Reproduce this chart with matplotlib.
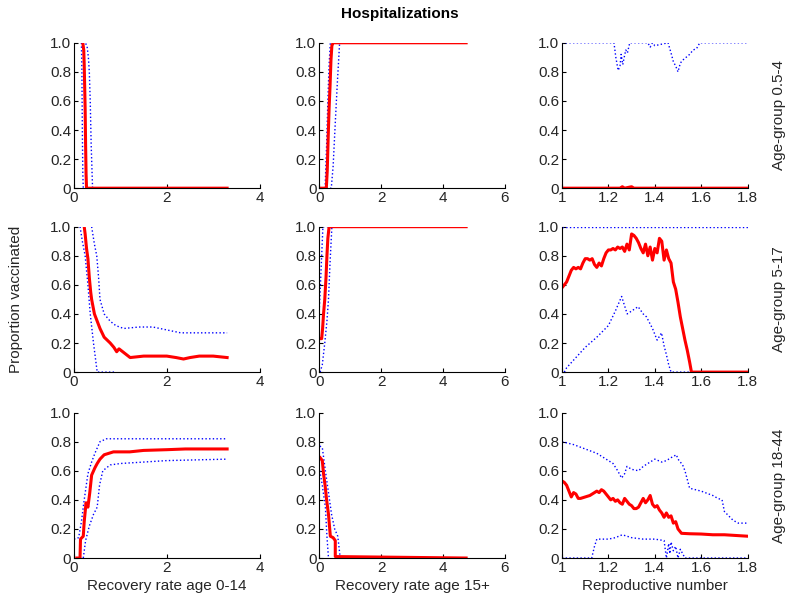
import matplotlib.pyplot as plt

plt.rcParams['font.family'] = ['Liberation Sans', 'DejaVu Sans']

# row 1 (age-group 0.5-4)
r1c1_x = [0.19, 0.21, 0.22, 0.23, 0.24, 0.25, 0.26, 0.27, 3.3]
r1c1_mid = [1.0, 0.95, 0.85, 0.7, 0.55, 0.3, 0.1, 0.0, 0.0]
r1c1_hi_x = [0.18, 0.24, 0.28, 0.31, 0.33, 0.35, 0.37, 0.40, 3.3]
r1c1_hi = [1.0, 1.0, 0.98, 0.9, 0.8, 0.6, 0.3, 0.0, 0.0]
r1c1_lo_x = [0.16, 0.17, 0.18, 0.19, 0.20, 3.3]
r1c1_lo = [1.0, 0.8, 0.4, 0.1, 0.0, 0.0]

r1c2_x = [0.0, 0.23, 0.26, 0.29, 0.32, 0.35, 0.38, 0.41, 0.45, 4.75]
r1c2_mid = [0.0, 0.0, 0.12, 0.35, 0.55, 0.7, 0.88, 0.98, 1.0, 1.0]
r1c2_hi_x = [0.19, 0.24, 0.28, 0.32, 0.36, 4.75]
r1c2_hi = [0.0, 0.3, 0.6, 0.85, 1.0, 1.0]
r1c2_lo_x = [0.0, 0.39, 0.45, 0.52, 0.58, 0.66, 4.75]
r1c2_lo = [0.0, 0.0, 0.15, 0.45, 0.7, 1.0, 1.0]

r1c3_x = [1.0, 1.25, 1.26, 1.27, 1.30, 1.31, 1.8]
r1c3_mid = [0.0, 0.0, 0.01, 0.0, 0.01, 0.0, 0.0]
r1c3_hi_x = [1.0, 1.224, 1.232, 1.242, 1.25, 1.255, 1.262, 1.268, 1.275, 1.282, 1.292,
             1.37, 1.38, 1.39, 1.40, 1.457, 1.47, 1.48, 1.49, 1.50, 1.51, 1.52,
             1.535, 1.55, 1.565, 1.58, 1.594, 1.8]
r1c3_hi = [1.0, 1.0, 0.9, 0.81, 0.84, 0.92, 0.85, 0.9, 0.95, 0.93, 1.0,
           1.0, 0.97, 1.0, 0.98, 1.0, 0.93, 0.87, 0.84, 0.8, 0.86, 0.88,
           0.9, 0.92, 0.95, 0.96, 1.0, 1.0]
r1c3_lo_x = [1.0, 1.8]
r1c3_lo = [0.0, 0.0]

# row 2 (age-group 5-17)
r2c1_x = [0.22, 0.24, 0.27, 0.3, 0.33, 0.36, 0.38, 0.41, 0.44, 0.5, 0.56, 0.65, 0.78,
          0.86, 0.92, 0.97, 1.05, 1.21, 1.5, 2.0, 2.2, 2.36, 2.5, 2.7, 3.0, 3.3]
r2c1_mid = [1.0, 0.95, 0.85, 0.78, 0.65, 0.55, 0.5, 0.45, 0.4, 0.35, 0.3, 0.24, 0.2,
            0.17, 0.14, 0.16, 0.14, 0.1, 0.11, 0.11, 0.1, 0.09, 0.1, 0.11, 0.11, 0.1]
r2c1_hi_x = [0.38, 0.44, 0.49, 0.53, 0.56, 0.65, 0.78, 0.9, 1.07, 1.4, 1.7, 2.0, 2.3, 3.3]
r2c1_hi = [1.0, 0.88, 0.8, 0.65, 0.5, 0.4, 0.35, 0.32, 0.3, 0.31, 0.31, 0.29, 0.27, 0.27]
r2c1_lo_x = [0.13, 0.18, 0.24, 0.3, 0.35, 0.42, 0.5, 0.9]
r2c1_lo = [1.0, 0.9, 0.8, 0.6, 0.4, 0.2, 0.0, 0.0]

r2c2_x = [0.01, 0.08, 0.11, 0.14, 0.18, 0.22, 0.25, 0.28, 0.32, 0.36, 4.75]
r2c2_mid = [0.23, 0.23, 0.3, 0.4, 0.5, 0.65, 0.8, 0.92, 1.0, 1.0, 1.0]
r2c2_hi_x = [0.0, 0.03, 0.06, 0.09, 0.12, 4.75]
r2c2_hi = [0.42, 0.55, 0.7, 0.85, 1.0, 1.0]
r2c2_lo_x = [0.03, 0.1, 0.18, 0.25, 0.30, 0.35, 0.41, 4.75]
r2c2_lo = [0.0, 0.05, 0.2, 0.35, 0.5, 0.75, 1.0, 1.0]

r2c3_x = [1.0, 1.01, 1.02, 1.03, 1.04, 1.05, 1.06, 1.07, 1.08, 1.09, 1.10, 1.11, 1.12,
          1.13, 1.14, 1.15, 1.16, 1.17, 1.18, 1.19, 1.20, 1.21, 1.22, 1.23, 1.24,
          1.25, 1.26, 1.27, 1.28, 1.29, 1.30, 1.31, 1.32, 1.33, 1.34, 1.35, 1.36,
          1.37, 1.38, 1.39, 1.40, 1.41, 1.42, 1.43, 1.44, 1.45, 1.46, 1.47, 1.48,
          1.49, 1.50, 1.51, 1.52, 1.53, 1.54, 1.55, 1.558, 1.6, 1.7, 1.8]
r2c3_mid = [0.58, 0.6, 0.62, 0.66, 0.7, 0.72, 0.71, 0.72, 0.71, 0.75, 0.78, 0.78, 0.77,
            0.78, 0.74, 0.72, 0.75, 0.73, 0.78, 0.82, 0.84, 0.84, 0.85, 0.84, 0.86,
            0.85, 0.86, 0.83, 0.88, 0.84, 0.95, 0.94, 0.92, 0.89, 0.85, 0.82, 0.88,
            0.8, 0.86, 0.77, 0.85, 0.82, 0.92, 0.9, 0.77, 0.84, 0.78, 0.75, 0.62,
            0.57, 0.48, 0.38, 0.3, 0.22, 0.15, 0.07, 0.0, 0.0, 0.0, 0.0]
r2c3_hi_x = [1.0, 1.8]
r2c3_hi = [1.0, 1.0]
r2c3_lo_x = [1.01, 1.02, 1.06, 1.1, 1.15, 1.2, 1.23, 1.257, 1.281, 1.3, 1.328, 1.35,
             1.364, 1.39, 1.41, 1.429, 1.44, 1.45, 1.46, 1.47, 1.8]
r2c3_lo = [0.0, 0.03, 0.1, 0.17, 0.24, 0.32, 0.42, 0.52, 0.4, 0.42, 0.45, 0.4,
           0.38, 0.3, 0.22, 0.27, 0.18, 0.12, 0.05, 0.0, 0.0]

# row 3 (age-group 18-44)
r3c1_x = [0.06, 0.13, 0.14, 0.2, 0.22, 0.26, 0.3, 0.34, 0.38, 0.45, 0.5, 0.56, 0.65,
          0.85, 1.2, 1.5, 2.0, 2.4, 3.3]
r3c1_mid = [0.0, 0.0, 0.13, 0.15, 0.25, 0.38, 0.35, 0.45, 0.57, 0.62, 0.65, 0.68, 0.71,
            0.73, 0.73, 0.74, 0.745, 0.75, 0.75]
r3c1_hi_x = [0.0, 0.1, 0.16, 0.22, 0.3, 0.38, 0.45, 0.56, 0.7, 0.85, 3.3]
r3c1_hi = [0.13, 0.14, 0.25, 0.4, 0.58, 0.66, 0.72, 0.8, 0.82, 0.82, 0.82]
r3c1_lo_x = [0.2, 0.25, 0.33, 0.42, 0.5, 0.55, 0.62, 0.78, 1.0, 2.0, 3.3]
r3c1_lo = [0.0, 0.12, 0.22, 0.3, 0.35, 0.5, 0.6, 0.64, 0.65, 0.67, 0.68]

r3c2_x = [0.03, 0.1, 0.14, 0.19, 0.24, 0.3, 0.36, 0.45, 0.52, 0.52, 4.75]
r3c2_mid = [0.69, 0.67, 0.58, 0.5, 0.4, 0.3, 0.15, 0.14, 0.12, 0.01, 0.0]
r3c2_hi_x = [0.02, 0.1, 0.2, 0.3, 0.4, 0.5, 0.6, 0.68, 4.75]
r3c2_hi = [0.77, 0.76, 0.6, 0.45, 0.3, 0.2, 0.15, 0.0, 0.0]
r3c2_lo_x = [0.02, 0.1, 0.2, 0.25, 0.3]
r3c2_lo = [0.6, 0.5, 0.35, 0.15, 0.0]

r3c3_x = [1.0, 1.01, 1.02, 1.03, 1.04, 1.05, 1.06, 1.07, 1.08, 1.10, 1.12, 1.14, 1.15,
          1.16, 1.17, 1.18, 1.19, 1.20, 1.21, 1.22, 1.23, 1.24, 1.25, 1.26, 1.27,
          1.28, 1.29, 1.30, 1.31, 1.32, 1.33, 1.34, 1.35, 1.36, 1.37, 1.38, 1.39,
          1.40, 1.41, 1.42, 1.43, 1.44, 1.45, 1.46, 1.47, 1.48, 1.49, 1.50, 1.51,
          1.515, 1.55, 1.6, 1.65, 1.7, 1.75, 1.8]
r3c3_mid = [0.53, 0.52, 0.5, 0.46, 0.42, 0.45, 0.44, 0.41, 0.41, 0.42, 0.43, 0.45, 0.46,
            0.45, 0.47, 0.46, 0.44, 0.42, 0.4, 0.41, 0.39, 0.4, 0.38, 0.37, 0.41,
            0.39, 0.37, 0.36, 0.34, 0.34, 0.35, 0.38, 0.41, 0.38, 0.4, 0.43, 0.37,
            0.35, 0.36, 0.33, 0.31, 0.28, 0.31, 0.28, 0.29, 0.24, 0.25, 0.2, 0.18,
            0.17, 0.167, 0.165, 0.16, 0.16, 0.155, 0.15]
r3c3_hi_x = [1.0, 1.05, 1.1, 1.15, 1.17, 1.2, 1.22, 1.24, 1.257, 1.27, 1.28, 1.3, 1.33,
             1.35, 1.4, 1.43, 1.45, 1.47, 1.493, 1.5, 1.52, 1.53, 1.55, 1.6, 1.65,
             1.672, 1.69, 1.7, 1.737, 1.76, 1.8]
r3c3_hi = [0.8, 0.78, 0.75, 0.72, 0.7, 0.67, 0.65, 0.6, 0.55, 0.58, 0.63, 0.61, 0.6,
           0.63, 0.68, 0.66, 0.67, 0.69, 0.71, 0.68, 0.64, 0.6, 0.48, 0.46, 0.43,
           0.41, 0.4, 0.32, 0.26, 0.24, 0.24]
r3c3_lo_x = [1.0, 1.128, 1.14, 1.15, 1.2, 1.23, 1.26, 1.28, 1.3, 1.35, 1.4, 1.44, 1.45,
             1.46, 1.465, 1.47, 1.48, 1.49, 1.5, 1.51, 1.52, 1.53, 1.8]
r3c3_lo = [0.0, 0.0, 0.08, 0.13, 0.13, 0.14, 0.16, 0.15, 0.14, 0.13, 0.13, 0.12, 0.0,
           0.1, 0.03, 0.11, 0.05, 0.08, 0.0, 0.06, 0.03, 0.0, 0.0]

panels = [
    [(r1c1_x, r1c1_mid, r1c1_hi_x, r1c1_hi, r1c1_lo_x, r1c1_lo),
     (r1c2_x, r1c2_mid, r1c2_hi_x, r1c2_hi, r1c2_lo_x, r1c2_lo),
     (r1c3_x, r1c3_mid, r1c3_hi_x, r1c3_hi, r1c3_lo_x, r1c3_lo)],
    [(r2c1_x, r2c1_mid, r2c1_hi_x, r2c1_hi, r2c1_lo_x, r2c1_lo),
     (r2c2_x, r2c2_mid, r2c2_hi_x, r2c2_hi, r2c2_lo_x, r2c2_lo),
     (r2c3_x, r2c3_mid, r2c3_hi_x, r2c3_hi, r2c3_lo_x, r2c3_lo)],
    [(r3c1_x, r3c1_mid, r3c1_hi_x, r3c1_hi, r3c1_lo_x, r3c1_lo),
     (r3c2_x, r3c2_mid, r3c2_hi_x, r3c2_hi, r3c2_lo_x, r3c2_lo),
     (r3c3_x, r3c3_mid, r3c3_hi_x, r3c3_hi, r3c3_lo_x, r3c3_lo)],
]

row_labels = ['Age-group 0.5-4', 'Age-group 5-17', 'Age-group 18-44']
col_xlabels = ['Recovery rate age 0-14', 'Recovery rate age 15+', 'Reproductive number']
col_xlim = [(0, 4), (0, 6), (1, 1.8)]
col_xticks = [[0, 2, 4], [0, 2, 4, 6], [1, 1.2, 1.4, 1.6, 1.8]]
col_xticklabels = [['0', '2', '4'], ['0', '2', '4', '6'], ['1', '1.2', '1.4', '1.6', '1.8']]
yticks = [0, 0.2, 0.4, 0.6, 0.8, 1.0]
yticklabels = ['0', '0.2', '0.4', '0.6', '0.8', '1.0']

fig = plt.figure(figsize=(8, 6.11), dpi=100)
lefts = [0.0925, 0.399, 0.7025]
bottoms = [0.692, 0.391, 0.0867]
w = 0.232
h = 0.238
tcol = '#262626'

for i in range(3):
    for j in range(3):
        ax = fig.add_axes([lefts[j], bottoms[i], w, h])
        x, m, hx, hy, lx, ly = panels[i][j]
        ax.plot(hx, hy, ':', color='b', lw=1)
        ax.plot(lx, ly, ':', color='b', lw=1)
        ax.plot(x, m, '-', color='r', lw=2.2)
        ax.set_xlim(col_xlim[j])
        ax.set_ylim(0, 1)
        ax.set_xticks(col_xticks[j])
        ax.set_xticklabels(col_xticklabels[j])
        ax.set_yticks(yticks)
        ax.set_yticklabels(yticklabels)
        ax.spines['top'].set_visible(False)
        ax.spines['right'].set_visible(False)
        ax.tick_params(direction='in', length=3, labelsize=11, labelcolor=tcol, pad=2)
        if i == 2:
            ax.set_xlabel(col_xlabels[j], fontsize=11, color=tcol, labelpad=3)
        if j == 2:
            ax.text(1.167, 0.5, row_labels[i], transform=ax.transAxes, rotation=90,
                    ha='center', va='center', fontsize=11, color=tcol)

fig.text(0.5, 0.977, 'Hospitalizations', ha='center', va='center',
         fontsize=11, fontweight='bold')
fig.text(0.02, 0.51, 'Proportion vaccinated', ha='center', va='center',
         rotation=90, fontsize=11, color=tcol)

plt.savefig('out.png', dpi=100)
